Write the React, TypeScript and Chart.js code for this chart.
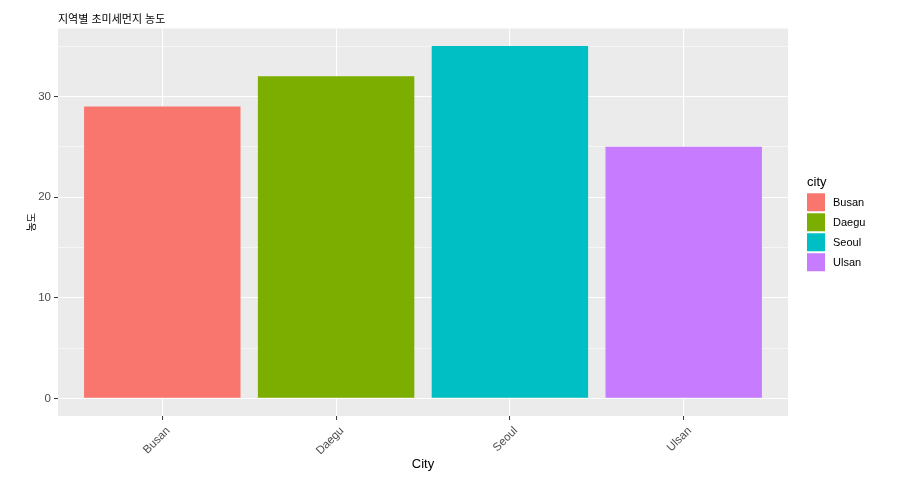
import React, { useEffect, useRef } from "react";
import { Chart, registerables } from "chart.js";

Chart.register(...registerables);

const cities = ["Busan", "Daegu", "Seoul", "Ulsan"];
const pm25 = [29, 32, 35, 25];
const colors = ["#F8766D", "#7CAE00", "#00BFC4", "#C77CFF"];
const yTicks = [0, 5, 10, 15, 20, 25, 30, 35];
const xPositions = [1, 2, 3, 4];
const titleText = "지역별 초미세먼지 농도";
const xTitle = "City";
const yTitle = "농도";
const legendTitle = "city";

const FONT = '"Liberation Sans", Arial, "Noto Sans CJK KR", sans-serif';

const panelBg = {
  id: "panelBg",
  beforeDraw(chart: any) {
    const { ctx, chartArea } = chart;
    ctx.save();
    ctx.fillStyle = "#EBEBEB";
    ctx.fillRect(chartArea.left, chartArea.top, chartArea.right - chartArea.left, chartArea.bottom - chartArea.top);
    ctx.restore();
  },
};

const ggLegend = {
  id: "ggLegend",
  afterDraw(chart: any) {
    const { ctx, chartArea } = chart;
    const x0 = chartArea.right + 19;
    const midY = (chartArea.top + chartArea.bottom) / 2;
    ctx.save();
    ctx.fillStyle = "#000000";
    ctx.font = `13px ${FONT}`;
    ctx.textBaseline = "middle";
    ctx.textAlign = "left";
    ctx.fillText(legendTitle, x0, midY - 40);
    const top = midY - 29;
    cities.forEach((c, i) => {
      const y = top + i * 20;
      ctx.fillStyle = colors[i];
      ctx.fillRect(x0, y, 18, 18);
      ctx.fillStyle = "#000000";
      ctx.font = `11px ${FONT}`;
      ctx.fillText(c, x0 + 26, y + 9.5);
    });
    ctx.restore();
  },
};

export default function App() {
  const ref = useRef<HTMLCanvasElement | null>(null);

  useEffect(() => {
    if (!ref.current) return;
    const chart = new Chart(ref.current, {
      type: "bar",
      data: {
        datasets: [
          {
            data: xPositions.map((x, i) => ({ x, y: pm25[i] })),
            backgroundColor: colors,
            borderWidth: 0,
            barPercentage: 0.9,
            categoryPercentage: 1,
          } as any,
        ],
      },
      plugins: [panelBg, ggLegend],
      options: {
        animation: false,
        responsive: true,
        maintainAspectRatio: false,
        layout: { padding: { left: 0, right: 112, top: 0, bottom: 0 } },
        plugins: {
          legend: { display: false },
          tooltip: { enabled: false },
          title: {
            display: true,
            text: titleText,
            align: "start",
            fullSize: false,
            color: "#000000",
            font: { size: 11, family: FONT, weight: "normal" },
            padding: { top: 13, bottom: 2.3 },
          } as any,
        },
        scales: {
          x: {
            type: "linear",
            min: 0.4,
            max: 4.6,
            offset: false,
            border: { display: false },
            grid: {
              offset: false,
              color: "#FFFFFF",
              lineWidth: 1.1,
              tickColor: "#333333",
              tickLength: 4,
              tickWidth: 1,
            },
            afterBuildTicks: (scale: any) => {
              scale.ticks = xPositions.map((v) => ({ value: v }));
            },
            afterFit: (scale: any) => {
              scale.height = 64;
            },
            ticks: {
              autoSkip: false,
              minRotation: 45,
              maxRotation: 45,
              padding: 4,
              labelOffset: 6,
              color: "#4D4D4D",
              font: { size: 11.5, family: FONT },
              callback: (v: any) => cities[Number(v) - 1] ?? "",
            },
            title: {
              display: true,
              text: xTitle,
              color: "#000000",
              font: { size: 13, family: FONT },
              padding: { top: 0, bottom: 8 },
            },
          } as any,
          y: {
            type: "linear",
            min: -1.75,
            max: 36.75,
            border: { display: false },
            grid: {
              color: "#FFFFFF",
              lineWidth: (c: any) => (c.tick && c.tick.value % 10 === 0 ? 1.1 : 0.55),
              tickColor: (c: any) => (c.tick && c.tick.value % 10 === 0 ? "#333333" : "rgba(0,0,0,0)"),
              tickLength: 4,
              tickWidth: 1,
            },
            afterBuildTicks: (scale: any) => {
              scale.ticks = yTicks.map((v) => ({ value: v }));
            },
            afterFit: (scale: any) => {
              scale.width = 58;
            },
            ticks: {
              padding: 3,
              color: "#4D4D4D",
              font: { size: 11.5, family: FONT },
              callback: (v: any) => (Number(v) % 10 === 0 ? String(v) : ""),
            },
            title: {
              display: true,
              text: yTitle,
              color: "#000000",
              font: { size: 10, family: FONT },
              padding: { top: 26, bottom: 0 },
            },
          } as any,
        },
      },
    });
    return () => chart.destroy();
  }, []);

  return (
    <div style={{ position: "fixed", left: 0, top: 0, width: 900, height: 480, background: "#FFFFFF" }}>
      <canvas ref={ref} />
    </div>
  );
}
